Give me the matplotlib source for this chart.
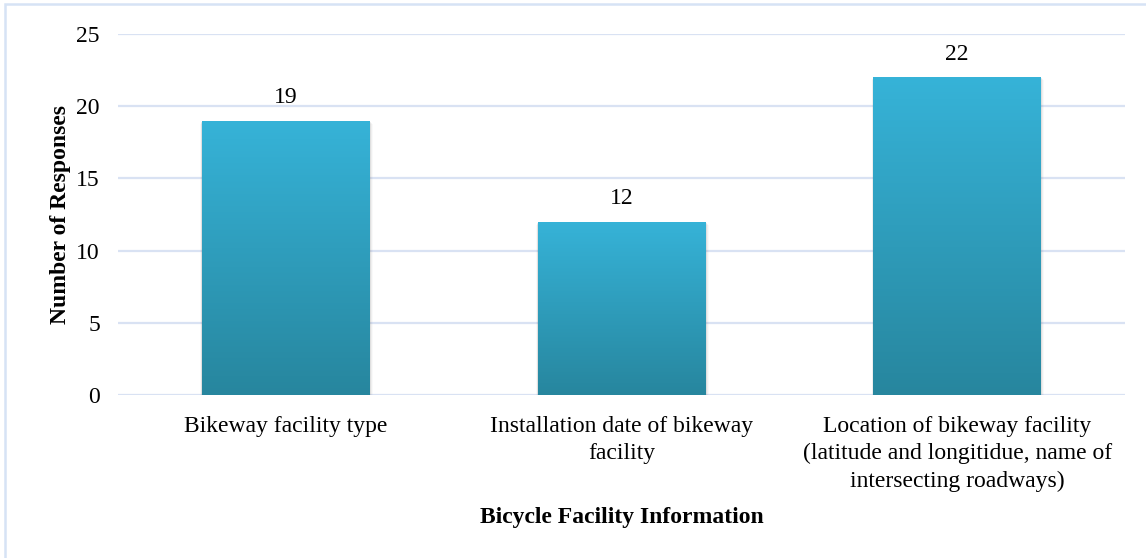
import numpy as np
import matplotlib
matplotlib.use("Agg")
import matplotlib.pyplot as plt
from matplotlib.patches import Rectangle
from matplotlib.colors import LinearSegmentedColormap

categories = ["Bikeway facility type",
              "Installation date of bikeway\nfacility",
              "Location of bikeway facility\n(latitude and longitidue, name of\nintersecting roadways)"]
values = [19, 12, 22]
yticks = [0, 5, 10, 15, 20, 25]

plt.rcParams['font.family'] = ['Liberation Serif', 'DejaVu Serif']
FS = 17

fig = plt.figure(figsize=(11.46, 5.58), dpi=100)
ax = fig.add_axes([118/1146, 1-395/558, (1125-118)/1146, (395-34)/558])

x = np.arange(len(categories))
width = 0.5
cmap = LinearSegmentedColormap.from_list("g", ["#27869E", "#36B3D8"])
grad = np.linspace(0, 1, 256).reshape(-1, 1)

# soft shadows
for xi, v in zip(x, values):
    for k, a in enumerate([0.10, 0.06, 0.03]):
        off = 0.003 * (k + 1)
        ax.add_patch(Rectangle((xi - width/2 - off*0.5, -0.07*(k+1)), width + off*1.6, v,
                               facecolor='#555555', alpha=a, edgecolor='none', zorder=2))

bars = ax.bar(x, values, width=width, color='#2FA0C0', zorder=3)
for b, v in zip(bars, values):
    x0 = b.get_x()
    im = ax.imshow(grad, aspect='auto', cmap=cmap, origin='lower',
                   extent=[x0, x0 + b.get_width(), 0, v], zorder=4)
    im.set_clip_path(b)
    ax.annotate(str(v), (b.get_x() + b.get_width()/2, v), xytext=(0, 9),
                textcoords='offset points', ha='center', va='bottom', fontsize=FS)

ax.set_xlim(-0.5, 2.5)
ax.set_ylim(0, 25)
ax.set_yticks(yticks)
ax.set_xticks(x)
ax.set_xticklabels(categories, fontsize=FS, linespacing=1.4)
ax.tick_params(axis='y', labelsize=FS, length=0, pad=13)
ax.tick_params(axis='x', length=0, pad=15)
ax.grid(axis='y', color='#D9E2F3', linewidth=1.6, zorder=0)
ax.set_axisbelow(True)
for s in ax.spines.values():
    s.set_visible(False)

ax.set_ylabel("Number of Responses", fontsize=FS, fontweight='bold', labelpad=4)
fig.text((118+1125)/2/1146, 1-517/558, "Bicycle Facility Information", fontsize=FS,
         fontweight='bold', ha='center', va='center')

# figure border (top and left visible)
fig.patches.append(Rectangle((5/1146, -0.1), 2.0, 1 - 4/558 + 0.1, transform=fig.transFigure,
                             fill=False, edgecolor='#D6E3F5', linewidth=1.8))

fig.savefig("out.png", dpi=100)
